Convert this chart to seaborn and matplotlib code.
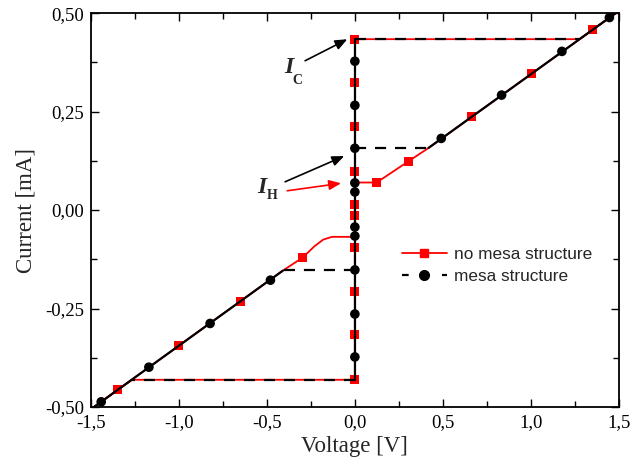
import matplotlib
matplotlib.use("Agg")
import matplotlib.pyplot as plt
from matplotlib.lines import Line2D
from matplotlib.ticker import MultipleLocator, FuncFormatter
import seaborn as sns
import pandas as pd

sns.set_theme(style="ticks")
plt.rcParams['font.family'] = ['Liberation Serif', 'DejaVu Serif']

# ---- data (V in volts, I in mA) ----
# no mesa structure: full path
red_path_v = [0, 0, 1.277, 1.52, 0.43, 0.305, 0.124, 0, 0, -1.267, -1.52, -0.41, -0.295, -0.23, -0.18, -0.13, 0]
red_path_i = [-0.431, 0.434, 0.434, 0.512, 0.161, 0.124, 0.070, 0.070, -0.431, -0.431, -0.512, -0.154, -0.120, -0.092, -0.075, -0.068, -0.068]
red_mark_v = [1.353, 1.004, 0.661, 0.305, 0.124, -0.295, -0.651, -1.0, -1.347,
              0, 0, 0, 0, 0, 0, 0, 0, 0, 0]
red_mark_i = [0.459, 0.347, 0.237, 0.124, 0.070, -0.120, -0.231, -0.343, -0.455,
              0.434, 0.325, 0.211, 0.099, 0.015, -0.013, -0.096, -0.208, -0.317, -0.431]

# mesa structure: solid parts (vertical + resistive branches)
blk_vert_v = [0, 0]
blk_vert_i = [-0.431, 0.434]
blk_pos_v = [0.419, 1.52]
blk_pos_i = [0.158, 0.512]
blk_neg_v = [-1.52, -0.41]
blk_neg_i = [-0.512, -0.154]
# mesa structure: dashed jumps
jump_top_v = [0, 1.277]
jump_top_i = [0.434, 0.434]
jump_bot_v = [0, -1.267]
jump_bot_i = [-0.431, -0.431]
ret_pos_v = [0, 0.419]
ret_pos_i = [0.157, 0.157]
ret_neg_v = [0, -0.41]
ret_neg_i = [-0.152, -0.152]
blk_mark_v = [1.447, 1.177, 0.834, 0.491, -0.48, -0.823, -1.171, -1.442,
              0, 0, 0, 0, 0, 0, 0, 0, 0, 0]
blk_mark_i = [0.489, 0.403, 0.292, 0.182, -0.178, -0.288, -0.399, -0.487,
              0.378, 0.266, 0.157, 0.069, 0.046, -0.043, -0.066, -0.152, -0.264, -0.373]

x_ticks = [-1.5, -1.0, -0.5, 0.0, 0.5, 1.0, 1.5]
y_ticks = [-0.50, -0.25, 0.00, 0.25, 0.50]

fig = plt.figure(figsize=(6.32, 4.71), dpi=100)
ax = fig.add_axes([0.144, 0.136, 0.835, 0.836])

RED = '#ff0000'
def seg(v, i, **kw):
    df = pd.DataFrame({'V': v, 'I': i})
    sns.lineplot(data=df, x='V', y='I', sort=False, estimator=None, ax=ax, **kw)

# red curve
seg(red_path_v, red_path_i, color=RED, linewidth=1.3, zorder=2)
sns.scatterplot(x=red_mark_v, y=red_mark_i, marker='s', s=42, color=RED,
                edgecolor='none', ax=ax, zorder=3)
# black curve
for v, i in [(blk_vert_v, blk_vert_i), (blk_pos_v, blk_pos_i), (blk_neg_v, blk_neg_i)]:
    seg(v, i, color='black', linewidth=1.6, zorder=4)
for v, i in [(jump_top_v, jump_top_i), (jump_bot_v, jump_bot_i),
             (ret_pos_v, ret_pos_i), (ret_neg_v, ret_neg_i)]:
    seg(v, i, color='black', linewidth=1.6, linestyle=(0, (5, 4)), zorder=4)
sns.scatterplot(x=blk_mark_v, y=blk_mark_i, marker='o', s=48, color='black',
                edgecolor='none', ax=ax, zorder=5)

ax.set_xlim(-1.5, 1.5)
ax.set_ylim(-0.5, 0.5)
ax.set_xticks(x_ticks)
ax.set_yticks(y_ticks)
ax.xaxis.set_minor_locator(MultipleLocator(0.25))
ax.yaxis.set_minor_locator(MultipleLocator(0.125))
ax.xaxis.set_major_formatter(FuncFormatter(lambda v, p: f"{v:.1f}".replace('.', ',')))
ax.yaxis.set_major_formatter(FuncFormatter(lambda v, p: f"{v:.2f}".replace('.', ',')))
ax.tick_params(which='both', direction='in', top=True, right=True, labelsize=13.5,
               width=1.0, colors='black', pad=5)
ax.tick_params(which='major', length=6)
ax.tick_params(which='minor', length=4)
for s in ax.spines.values():
    s.set_linewidth(1.3)
    s.set_color('black')
ax.set_xlabel('Voltage [V]', fontsize=16.5, labelpad=4)
ax.set_ylabel('Current [mA]', fontsize=16.5, labelpad=6)

# annotations
ax.text(-0.375, 0.363, 'I', fontsize=17, fontweight='bold', style='italic', ha='center', va='center')
ax.text(-0.328, 0.328, 'C', fontsize=10, fontweight='bold', ha='center', va='center')
ax.text(-0.530, 0.058, 'I', fontsize=17, fontweight='bold', style='italic', ha='center', va='center')
ax.text(-0.468, 0.036, 'H', fontsize=10, fontweight='bold', ha='center', va='center')
ap = dict(arrowstyle='-|>,head_length=0.6,head_width=0.25', lw=1.2)
ax.annotate('', xy=(-0.029, 0.437), xytext=(-0.297, 0.376),
            arrowprops=dict(color='black', **ap))
ax.annotate('', xy=(-0.046, 0.140), xytext=(-0.411, 0.069),
            arrowprops=dict(color='black', **ap))
ax.annotate('', xy=(-0.063, 0.069), xytext=(-0.40, 0.048),
            arrowprops=dict(color=RED, **ap))

handles = [Line2D([], [], color=RED, lw=1.3, marker='s', markersize=6),
           Line2D([], [], color='black', lw=1.6, linestyle=(0, (3, 6)), marker='o', markersize=7)]
ax.legend(handles, ['no mesa structure', 'mesa structure'], loc='upper left',
          bbox_to_anchor=(0.56, 0.445), frameon=False, handlelength=2.6,
          prop={'family': 'Liberation Sans', 'size': 12.4}, labelspacing=0.4,
          handletextpad=0.4)

fig.savefig('out.png', dpi=100)
